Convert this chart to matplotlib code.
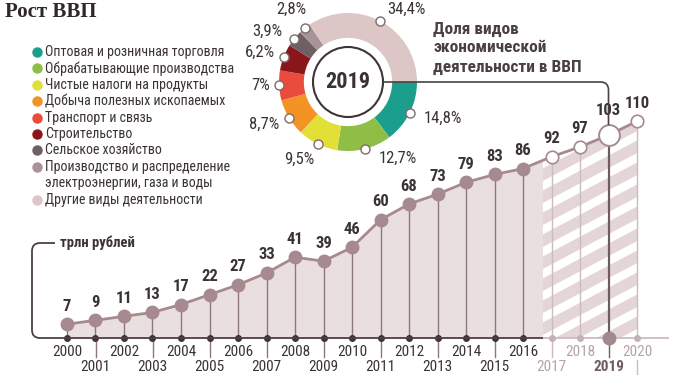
import matplotlib
matplotlib.use("Agg")
import matplotlib.pyplot as plt
import matplotlib.font_manager as fm
from matplotlib.transforms import Affine2D
from matplotlib.path import Path
from matplotlib.patches import PathPatch, Circle, Polygon
import numpy as np

# GDP, trillion rubles
years = list(range(2000, 2021))
gdp = [7, 9, 11, 13, 17, 22, 27, 33, 41, 39, 46, 60, 68, 73, 79, 83, 86, 92, 97, 103, 110]
last_actual = 2016
focus_year = 2019

# 2019 structure
sectors = [
    "Оптовая и розничная торговля",
    "Обрабатывающие производства",
    "Чистые налоги на продукты",
    "Добыча полезных ископаемых",
    "Транспорт и связь",
    "Строительство",
    "Сельское хозяйство",
    "Производство и распределение\nэлектроэнергии, газа и воды",
    "Другие виды деятельности",
]
shares = [14.8, 12.7, 9.5, 8.7, 7.0, 6.2, 3.9, 2.8, 34.4]
sector_colors = ["#1c9e8c", "#8fbe47", "#e2e036", "#f39326", "#e94b3c",
                 "#8a151b", "#6e5f63", "#a99397", "#dcc6c6"]

# fonts
names = {f.name for f in fm.fontManager.ttflist}


def pick(*cands):
    for c in cands:
        if c in names:
            return c
    return "DejaVu Sans"


NARROW = pick("Liberation Sans Narrow", "Roboto Condensed", "Noto Sans", "DejaVu Sans")
SERIF = pick("Liberation Serif", "DejaVu Serif")
plt.rcParams["font.family"] = NARROW

DARK = "#3b3234"
MAUVE = "#a68a8f"
STEM = "#8d787b"
LIGHT = "#cbbcbe"
LIGHT_TXT = "#b5a4a7"
FILL = "#eadfdf"
STRIPE = "#e4d6d6"

W, H = 700, 375
fig = plt.figure(figsize=(7, 3.75), dpi=100)
pix = Affine2D().scale(1 / W, -1 / H).translate(0, 1) + fig.transFigure

# line chart geometry (pixels)
X0, DX = 67, 28.5
Y0, DY = 338, 1.97


def xpx(yr):
    return X0 + (yr - 2000) * DX


def ypx(v):
    return Y0 - v * DY


def stripes(axis, clip, x0, x1, y0, y1, period=22, slope=0.53, lw=8.0):
    for b in np.arange(y0, y1 + (x1 - x0) * slope + period, period):
        ln, = axis.plot([x0, x1], [b, b - (x1 - x0) * slope], color=STRIPE,
                        lw=lw, transform=pix, solid_capstyle="butt", zorder=1.5)
        ln.set_clip_path(clip)


ax = fig.add_axes([0, 0, 1, 1])
ax.axis("off")

split = last_actual + 0.7
xs = [y for y in years if y <= last_actual] + [split]
ax.fill_between(xs, 0, np.interp(xs, years, gdp), color=FILL, lw=0, zorder=1)

xh = [split] + [y for y in years if y > last_actual]
yh = np.interp(xh, years, gdp)
verts = [(xh[0], 0)] + list(zip(xh, yh)) + [(xh[-1], 0)]
hpoly = Polygon(verts, closed=True, facecolor="white", edgecolor="none", zorder=1)
ax.add_patch(hpoly)
stripes(ax, hpoly, xpx(split) - 5, xpx(years[-1]) + 5, ypx(max(gdp)) - 10, Y0 + 5)

# stems
stem_colors = []
for yr in years:
    if yr == focus_year:
        stem_colors.append("#6e5c5f")
    elif yr <= last_actual:
        stem_colors.append(STEM)
    else:
        stem_colors.append(LIGHT)
ax.vlines(years, 0, gdp, colors=stem_colors,
          lw=[1.6 if y == focus_year else 1.0 for y in years], zorder=2)

ax.plot(years, gdp, color=MAUVE, lw=2, zorder=3)

act = [i for i, y in enumerate(years) if y <= last_actual]
fc = [i for i, y in enumerate(years) if y > last_actual and y != focus_year]
fi = years.index(focus_year)
ax.plot([years[i] for i in act], [gdp[i] for i in act], "o", ms=9,
        mfc=MAUVE, mec=MAUVE, zorder=4)
ax.plot([years[i] for i in fc], [gdp[i] for i in fc], "o", ms=9,
        mfc="white", mec=MAUVE, mew=1.2, zorder=4)
ax.plot([focus_year], [gdp[fi]], "o", ms=15, mfc="white", mec=MAUVE,
        mew=1.4, zorder=4)

for yr, v in zip(years, gdp):
    off = 25 if yr == focus_year else 18
    ax.annotate(str(v), (yr, v), xytext=(0, off), textcoords="offset pixels",
                ha="center", va="center", fontsize=12, fontweight="bold",
                color=DARK, zorder=5)

# baseline + bracket
base = Path([(55, 243), (40, 243), (32, 243), (32, 251), (32, Y0 - 8),
             (32, Y0), (40, Y0), (xpx(split), Y0)],
            [Path.MOVETO, Path.LINETO, Path.CURVE3, Path.CURVE3, Path.LINETO,
             Path.CURVE3, Path.CURVE3, Path.LINETO])
fig.add_artist(PathPatch(base, fill=False, ec="#4d4043", lw=1.3, transform=pix))
ax.plot([xpx(split), 668], [Y0, Y0], color=LIGHT, lw=1.3, transform=pix, zorder=2)
fig.text(60 / W, 1 - 243 / H, "трлн рублей", fontsize=10.5, fontweight="bold",
         color=DARK, va="center")

ax.plot([years[i] for i in act], [0] * len(act), "o", ms=4, color="#3e3335", zorder=4)
ax.plot([years[i] for i in fc], [0] * len(fc), "o", ms=4, color="#c3b2b5", zorder=4)
ax.plot([focus_year], [0], "o", ms=9, color="#a08a8d", zorder=4)

for yr in years:
    if yr == focus_year:
        col, w = "#6f5b5e", "bold"
    elif yr <= last_actual:
        col, w = DARK, "normal"
    else:
        col, w = LIGHT_TXT, "normal"
    odd = yr % 2 == 1
    ax.annotate(str(yr), (yr, 0), xytext=(0, -29 if odd else -14),
                textcoords="offset pixels", ha="center", va="center",
                fontsize=11, color=col, fontweight=w)
    tcol = "#6e5c5f" if yr == focus_year else (STEM if yr <= last_actual else LIGHT)
    if odd:
        ax.plot([xpx(yr)] * 2, [Y0, Y0 + 19], color=tcol, lw=1, transform=pix)
    elif yr == years[-1]:
        ax.plot([xpx(yr)] * 2, [360, 375], color=tcol, lw=1, transform=pix)

ax.set_xlim(2000 - X0 / DX, 2000 + (W - X0) / DX)
ax.set_ylim(-(H - Y0) / DY, Y0 / DY)

# donut
R, CX, CY = 69, 348, 82
axp = fig.add_axes([(CX - R) / W, 1 - (CY + R) / H, 2 * R / W, 2 * R / H])
axp.pie(shares, colors=sector_colors, startangle=0, counterclock=False,
        radius=1, wedgeprops=dict(width=0.36, linewidth=0))
inner = Circle((0, 0), 35 / R, fc="white", ec="none", zorder=2)
axp.add_patch(inner)
stripes(axp, inner, CX - 40, CX + 40, CY - 60, CY + 45, period=22, slope=0.53, lw=7)
axp.add_patch(Circle((0, 0), 35 / R, fc="none", ec="#3e3335", lw=1.5, zorder=3))
axp.text(0, 0, str(focus_year), ha="center", va="center", fontsize=16,
         fontweight="bold", color=DARK, zorder=4)

cum = np.cumsum(shares)
ang = np.deg2rad(-(cum - np.array(shares) / 2) / 100 * 360)
axp.plot(np.cos(ang), np.sin(ang), "o", ms=6.5, mfc="white", mec="#7d6b6e",
         mew=1, clip_on=False, zorder=5)
lab_off = [(14, -5, "left"), (14, -9, "left"), (-18, -15, "center"),
           (-10, -7, "right"), (-9, 0, "right"), (-9, 5, "right"),
           (-12, 7, "right"), (-13, 19, "center"), (26, 12, "center")]
for a, v, (dx, dy, ha) in zip(ang, shares, lab_off):
    txt = f"{v:g}".replace(".", ",") + "%"
    axp.annotate(txt, (np.cos(a), np.sin(a)), xytext=(dx, dy),
                 textcoords="offset pixels", ha=ha, va="center", fontsize=12,
                 color=DARK, annotation_clip=False)
axp.set_xlim(-1, 1)
axp.set_ylim(-1, 1)
axp.set_aspect("equal")
axp.axis("off")

# connector from donut to 2019 point
con = Path([(CX + 35, CY), (xpx(focus_year) - 8, CY), (xpx(focus_year), CY),
            (xpx(focus_year), CY + 8), (xpx(focus_year), ypx(gdp[fi]) - 10)],
           [Path.MOVETO, Path.LINETO, Path.CURVE3, Path.CURVE3, Path.LINETO])
fig.add_artist(PathPatch(con, fill=False, ec="#4d4043", lw=1.2, transform=pix))

# headings
fig.text(5 / W, 1 - 12 / H, "Рост ВВП", family=SERIF, fontsize=15,
         fontweight="bold", color="#2f2729", va="center")
for i, line in enumerate(["Доля видов", "экономической", "деятельности в ВВП"]):
    fig.text(433 / W, 1 - (29 + 19 * i) / H, line, fontsize=12.5,
             fontweight="bold", color="#4a4044", va="center")

# legend
row = 0
for name, col in zip(sectors, sector_colors):
    y = 52 + row * 16.4
    ax.plot([37], [y], "o", ms=6.5, color=col, transform=pix, clip_on=False)
    for j, line in enumerate(name.split("\n")):
        fig.text(45 / W, 1 - (y + j * 16.4) / H, line, fontsize=10,
                 color=DARK, va="center")
    row += len(name.split("\n"))

fig.savefig("out.png", dpi=100)
